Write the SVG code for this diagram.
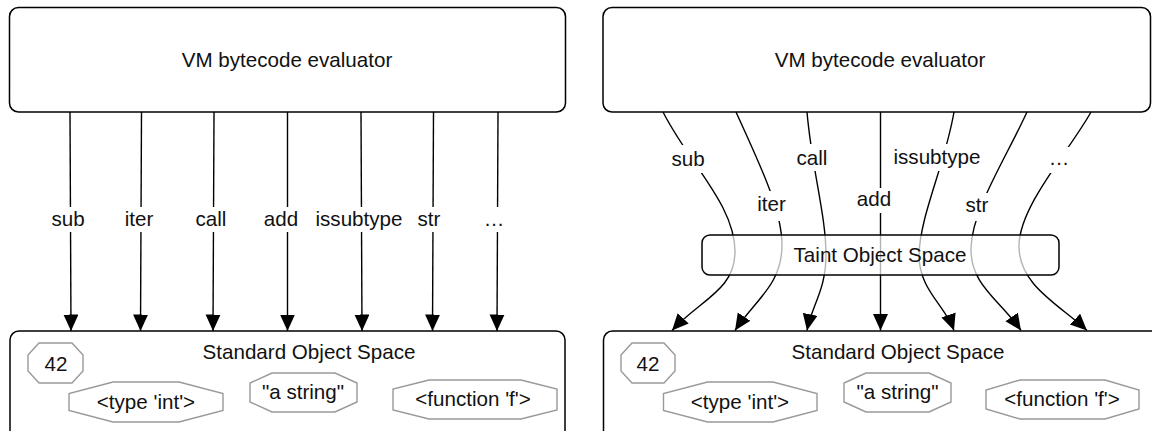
<svg xmlns="http://www.w3.org/2000/svg" width="1152" height="431" viewBox="0 0 1152 431">
<style>
  text { font-family: "Liberation Sans", Arial, Helvetica, sans-serif; font-size: 20.6px; fill: #111; text-anchor: middle; }
  .box { fill: #fff; stroke: #000; stroke-width: 1.5; }
  .taint { fill: #fff; fill-opacity: 0.7; stroke: #000; stroke-width: 1.5; }
  .oct { fill: #fff; stroke: #999; stroke-width: 1.4; }
  .edge { fill: none; stroke: #000; stroke-width: 1.4; marker-end: url(#ah); }
  .lbg { fill: #fff; }
</style>
<defs>
  <marker id="ah" markerUnits="userSpaceOnUse" markerWidth="17" markerHeight="16" viewBox="0 0 17 16" refX="16.5" refY="7.5" orient="auto">
    <path d="M0,0 L16.5,7.5 L0,15 Z" fill="#000"/>
  </marker>
</defs>

<!-- LEFT PANEL -->
<g id="vm-left">
  <rect class="box" x="9.5" y="7.5" width="556" height="104.5" rx="9"/>
  <text x="287" y="67">VM bytecode evaluator</text>
</g>
<g id="std-left">
  <rect class="box" x="10" y="331" width="555" height="110" rx="9"/>
  <text x="309" y="359">Standard Object Space</text>
</g>
<g id="o42-left">
  <polygon class="oct" points="39,343 72,343 83,355 83,371 72,383 39,383 28,371 28,355"/>
  <text x="56" y="371">42</text>
</g>
<g id="otype-left">
  <polygon class="oct" points="113,382 179,382 223,393.5 223,410.5 179,422 113,422 69,410.5 69,393.5"/>
  <text x="146" y="409">&lt;type 'int'&gt;</text>
</g>
<g id="ostr-left">
  <polygon class="oct" points="272,373 335,373 357,383 357,402 335,412 272,412 250,402 250,383"/>
  <text x="303" y="399">"a string"</text>
</g>
<g id="ofn-left">
  <polygon class="oct" points="429,380 521,380 557,389 557,410 521,419 429,419 393,410 393,389"/>
  <text x="473" y="406">&lt;function 'f'&gt;</text>
</g>

<g id="edges-left">
  <path class="edge" d="M70,112 L71,331"/>
  <path class="edge" d="M141.5,112 L140.5,331"/>
  <path class="edge" d="M214,112 L213,331"/>
  <path class="edge" d="M287.5,112 L287.5,331"/>
  <path class="edge" d="M361,112 L362,331"/>
  <path class="edge" d="M433.5,112 L432.5,331"/>
  <path class="edge" d="M498,112 L497,331"/>
  <rect class="lbg" x="50" y="207" width="37" height="25"/>
  <text x="68" y="226">sub</text>
  <rect class="lbg" x="123" y="207" width="32" height="25"/>
  <text x="139" y="226">iter</text>
  <rect class="lbg" x="194" y="207" width="34" height="25"/>
  <text x="211" y="226">call</text>
  <rect class="lbg" x="262" y="207" width="38" height="25"/>
  <text x="281" y="226">add</text>
  <rect class="lbg" x="313" y="207" width="92" height="25"/>
  <text x="359" y="226">issubtype</text>
  <rect class="lbg" x="415" y="207" width="28" height="25"/>
  <text x="429" y="226">str</text>
  <rect class="lbg" x="482" y="207" width="24" height="25"/>
  <text x="494" y="226">…</text>
</g>

<!-- RIGHT PANEL -->
<g id="vm-right">
  <rect class="box" x="603" y="7.5" width="547.5" height="104.5" rx="9"/>
  <text x="880" y="67">VM bytecode evaluator</text>
</g>
<g id="std-right">
  <rect class="box" x="603.5" y="331" width="560" height="110" rx="9"/>
  <text x="898" y="359">Standard Object Space</text>
</g>
<g id="o42-right">
  <polygon class="oct" points="632,343 664,343 675,355 675,371 664,383 632,383 621,371 621,355"/>
  <text x="648" y="371">42</text>
</g>
<g id="otype-right">
  <polygon class="oct" points="707.5,382 773,382 817,393.5 817,410.5 773,422 707.5,422 663.5,410.5 663.5,393.5"/>
  <text x="740" y="409">&lt;type 'int'&gt;</text>
</g>
<g id="ostr-right">
  <polygon class="oct" points="866,373 929,373 951,383 951,402 929,412 866,412 844,402 844,383"/>
  <text x="897.5" y="399">"a string"</text>
</g>
<g id="ofn-right">
  <polygon class="oct" points="1020,380 1105,380 1139,390 1139,409 1105,419 1020,419 986,409 986,390"/>
  <text x="1062" y="406">&lt;function 'f'&gt;</text>
</g>

<g id="edges-right">
  <path class="edge" d="M663,112 C690,165 735,205 735,252 C735,290 700,300 672,330.5"/>
  <path class="edge" d="M736,112 C760,165 782,210 782,245 C782,285 755,300 735,330.5"/>
  <path class="edge" d="M807,112 C812,170 826,215 826,255 C826,290 812,305 807,330.5"/>
  <path class="edge" d="M880.5,112 L880.5,330.5"/>
  <path class="edge" d="M954,112 C945,165 920,215 919,255 C919,290 945,305 954,330.5"/>
  <path class="edge" d="M1027,112 C1005,160 972,210 971,248 C970,285 1000,300 1021,330.5"/>
  <path class="edge" d="M1091,112 C1070,150 1020,205 1019,245 C1018,285 1060,305 1087,330.5"/>
  <rect class="lbg" x="670" y="145" width="36" height="28"/>
  <text x="688" y="166">sub</text>
  <rect class="lbg" x="794" y="144" width="36" height="27"/>
  <text x="812" y="165">call</text>
  <rect class="lbg" x="892" y="144" width="91" height="27"/>
  <text x="937" y="164">issubtype</text>
  <rect class="lbg" x="1048" y="147" width="23" height="26"/>
  <text x="1059" y="165">…</text>
  <rect class="lbg" x="755" y="191" width="33" height="30"/>
  <text x="771.5" y="211">iter</text>
  <rect class="lbg" x="855" y="188" width="38" height="25"/>
  <text x="874" y="206">add</text>
  <rect class="lbg" x="963" y="193" width="28" height="28"/>
  <text x="977" y="212">str</text>
</g>

<g id="taint">
  <rect class="taint" x="702" y="235" width="357" height="40" rx="8"/>
  <text x="880" y="262">Taint Object Space</text>
</g>
</svg>
